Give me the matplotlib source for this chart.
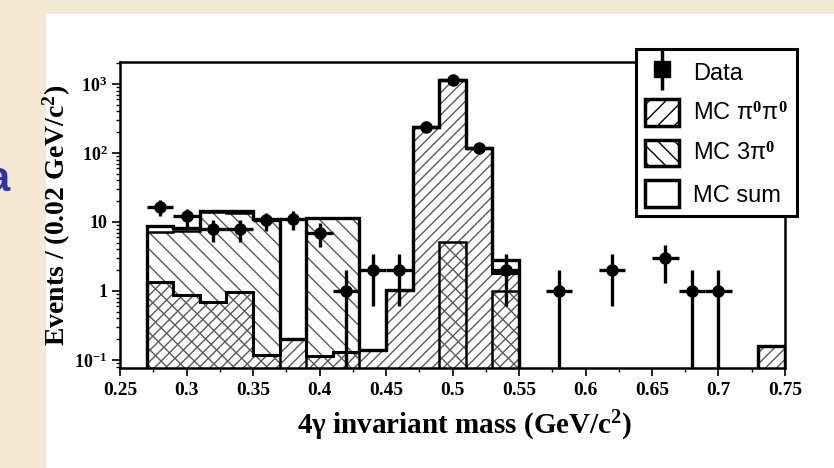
import matplotlib
matplotlib.use("Agg")
import matplotlib.pyplot as plt
from matplotlib.lines import Line2D
from matplotlib.patches import Patch, Rectangle
from matplotlib.ticker import FixedLocator, FixedFormatter, MultipleLocator, NullFormatter

# bin edges (GeV/c^2), 0.02 wide
edges = [0.27, 0.29, 0.31, 0.33, 0.35, 0.37, 0.39, 0.41, 0.43, 0.45, 0.47, 0.49,
         0.51, 0.53, 0.55, 0.57, 0.59, 0.61, 0.63, 0.65, 0.67, 0.69, 0.71, 0.73, 0.75]

# MC histograms, events per bin
mc_pipi = [1.35, 0.87, 0.70, 0.97, 0.12, 0.20, 0.115, 0.13, 0.14, 1.05, 235, 1150,
           118, 1.8, 0, 0, 0, 0, 0, 0, 0, 0, 0, 0.16]
mc_3pi = [7.2, 7.3, 13.8, 13.5, 10.9, 0, 11.4, 11.4, 0, 0, 0, 5.1,
          0, 1.0, 0, 0, 0, 0, 0, 0, 0, 0, 0, 0]
mc_sum = [8.6, 8.2, 14.5, 14.5, 11.0, 0.20, 11.5, 11.5, 0.14, 1.05, 235, 1150,
          118, 2.8, 0, 0, 0, 0, 0, 0, 0, 0, 0, 0.16]

# data points
data_x = [0.28, 0.30, 0.32, 0.34, 0.36, 0.38, 0.40, 0.42, 0.44, 0.46, 0.48, 0.50,
          0.52, 0.54, 0.58, 0.62, 0.66, 0.68, 0.70]
data_y = [16.5, 12, 8, 8, 10.5, 11, 7, 1, 2, 2, 235, 1150, 118, 2, 1, 2, 3, 1, 1]
err_lo = [4.1, 3.5, 2.8, 2.8, 3.2, 3.3, 2.6, 0.999, 1.4, 1.4, 15, 34, 11, 1.4,
          0.999, 1.4, 1.7, 0.999, 0.999]
err_hi = [4.1, 3.5, 2.8, 2.8, 3.2, 3.3, 2.6, 1.0, 1.4, 1.4, 15, 34, 11, 1.4,
          1.0, 1.4, 1.7, 1.0, 1.0]
half_bin = 0.01

x_ticks = [0.25, 0.3, 0.35, 0.4, 0.45, 0.5, 0.55, 0.6, 0.65, 0.7, 0.75]
x_labels = ["0.25", "0.3", "0.35", "0.4", "0.45", "0.5", "0.55", "0.6", "0.65", "0.7", "0.75"]
y_ticks = [0.1, 1, 10, 100, 1000]
y_labels = [r"$10^{-1}$", "1", "10", r"$10^{2}$", r"$10^{3}$"]

plt.rcParams.update({
    "font.family": "Liberation Serif",
    "font.weight": "bold",
    "mathtext.fontset": "custom",
    "mathtext.rm": "Liberation Serif:bold",
    "mathtext.it": "Liberation Serif:bold",
    "mathtext.bf": "Liberation Serif:bold",
    "hatch.linewidth": 1.0,
})

W, H = 834, 468
fig = plt.figure(figsize=(W / 100, H / 100), dpi=100, facecolor="#f4e9d2")
fig.patches.append(Rectangle((46 / W, 0), 1, 1 - 14 / H, transform=fig.transFigure,
                             facecolor="white", edgecolor="none", zorder=-1))
fig.text(10 / W, 1 - 180 / H, "a", ha="right", va="center", fontsize=30,
         color="#3232a6", family="Liberation Sans", weight="bold")

ax = fig.add_axes([120 / W, 1 - 368 / H, 665 / W, 306 / H])
ax.set_yscale("log")

# hatched fills
ax.stairs(mc_pipi, edges, baseline=1e-3, fill=True, facecolor="none",
          edgecolor="0.35", linewidth=0, hatch="///", zorder=1)
ax.stairs(mc_3pi, edges, baseline=1e-3, fill=True, facecolor="none",
          edgecolor="0.35", linewidth=0, hatch="\\\\", zorder=1)

# outlines
ax.stairs(mc_3pi, edges, baseline=1e-3, color="black", linewidth=1.8, zorder=2)
ax.stairs(mc_pipi, edges, baseline=1e-3, color="black", linewidth=2.2, zorder=2)
ax.stairs(mc_sum, edges, baseline=1e-3, color="black", linewidth=2.4, zorder=3)

ax.errorbar(data_x, data_y, xerr=half_bin, yerr=[err_lo, err_hi], fmt="o",
            color="black", markersize=8, elinewidth=2.4, capsize=0, zorder=4)

ax.set_xlim(0.25, 0.75)
ax.set_ylim(0.0765, 2080)

ax.xaxis.set_major_locator(FixedLocator(x_ticks))
ax.xaxis.set_major_formatter(FixedFormatter(x_labels))
ax.xaxis.set_minor_locator(MultipleLocator(0.025))
ax.yaxis.set_major_locator(FixedLocator(y_ticks))
ax.yaxis.set_major_formatter(FixedFormatter(y_labels))
ax.yaxis.set_minor_formatter(NullFormatter())
ax.tick_params(axis="x", which="major", direction="out", length=6, width=1.2,
               labelsize=14, pad=4)
ax.tick_params(axis="y", which="major", direction="out", length=6, width=1.2,
               labelsize=13, pad=3)
ax.tick_params(axis="both", which="minor", direction="out", length=3, width=1.0)

for sp in ax.spines.values():
    sp.set_linewidth(1.8)

ax.set_xlabel("4γ invariant mass (GeV/c$^{2}$)", fontsize=21, fontweight="bold")
ax.set_ylabel("Events / (0.02 GeV/c$^{2}$)", fontsize=20, fontweight="bold")
ax.xaxis.set_label_coords(0.519, -0.135)
ax.yaxis.set_label_coords(-0.07, 0.5)

# legend
h_data = (Line2D([], [], marker="|", markersize=30, markeredgewidth=2.5,
                 color="black", linestyle="none"),
          Line2D([], [], marker="s", markersize=12, color="black", linestyle="none"))
h_pipi = Patch(facecolor="white", edgecolor="black", hatch="//", linewidth=2.5)
h_3pi = Patch(facecolor="white", edgecolor="black", hatch="\\\\", linewidth=2.5)
h_sum = Patch(facecolor="white", edgecolor="black", linewidth=2.5)
leg = fig.legend([h_data, h_pipi, h_3pi, h_sum],
                 ["Data", r"MC π$^{0}$π$^{0}$", r"MC 3π$^{0}$", "MC sum"],
                 loc="upper left", bbox_to_anchor=(636 / W, 1 - 49 / H),
                 borderaxespad=0, fancybox=False, framealpha=1,
                 prop={"family": "Liberation Sans", "weight": "normal", "size": 17},
                 handlelength=1.4, handleheight=1.35, handletextpad=0.6,
                 labelspacing=0.6, borderpad=0.4)
leg.get_frame().set_edgecolor("black")
leg.get_frame().set_linewidth(2.2)
leg.set_zorder(10)

fig.savefig("out.png", dpi=100, facecolor=fig.get_facecolor())
